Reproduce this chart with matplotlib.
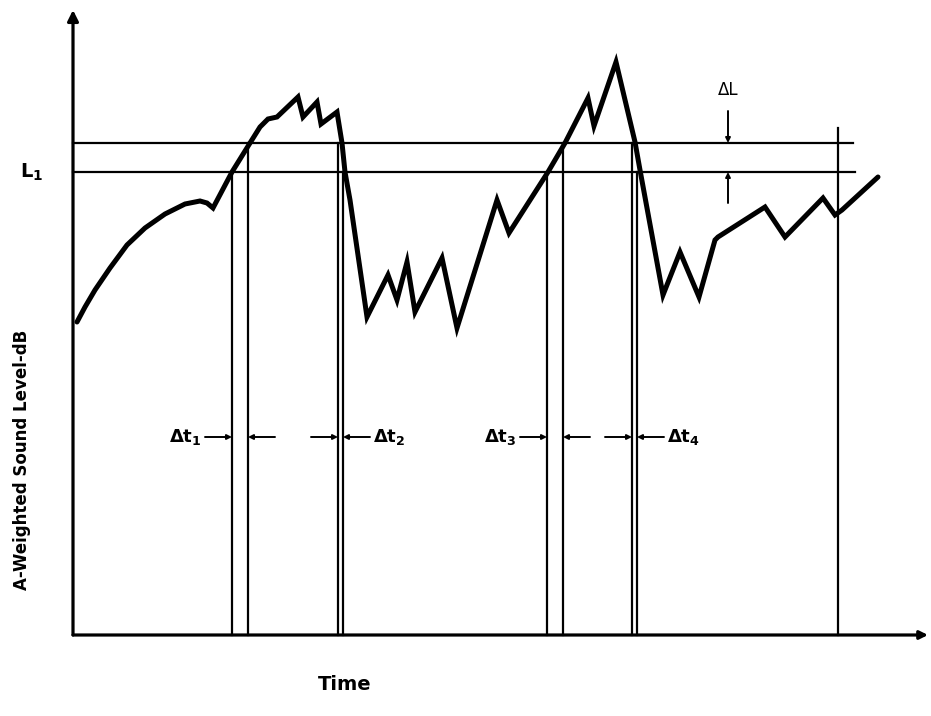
# Sketch: A-weighted sound level vs time, with threshold L1 and the
# time intervals where the level is above it (delta t1 .. delta t4).

import matplotlib.pyplot as plt

# ---- data (time and level in arbitrary drawing units) ----------------------

time = [4, 12, 22, 37, 54, 72, 92, 112, 127, 134, 140, 159, 177, 187, 195,
        204, 225, 230, 244, 248, 264, 269, 272, 277, 294, 315, 324, 334, 342,
        369, 384, 424, 436, 475, 492, 515, 521, 543, 562, 567, 590, 607, 626,
        642, 645, 692, 712, 750, 762, 769, 805]
level = [313, 328, 345, 367, 390, 407, 421, 431, 434, 432, 427, 463, 492,
         508, 516, 518, 538, 518, 533, 511, 523, 492, 463, 435, 318, 360, 335,
         373, 323, 377, 307, 435, 402, 463, 492, 537, 509, 573, 493, 465, 340,
         383, 338, 395, 398, 428, 398, 437, 420, 425, 458]

L1 = 463          # threshold level
L1_dL = 492       # threshold + delta L
line_end = 780    # right end of the two horizontal lines

# vertical lines: (time, top level)
vlines_t = [159, 175, 265, 270, 474, 490, 559, 564, 765]
vlines_top = [L1, L1_dL, L1_dL, L1, L1, L1_dL, L1_dL, L1, 507]

# delta t labels
dt_labels = ["\u0394t$_\\mathbf{1}$", "\u0394t$_\\mathbf{2}$",
             "\u0394t$_\\mathbf{3}$", "\u0394t$_\\mathbf{4}$"]
dt_level = 198

# ---- figure ----------------------------------------------------------------

fig = plt.figure(figsize=(9.31, 7.16), dpi=100)
ax = fig.add_axes([0, 0, 1, 1])
ax.set_xlim(-73, 858)
ax.set_ylim(-81, 635)
ax.axis("off")

# axes with arrows
ax.annotate("", xy=(0, 625), xytext=(0, 0),
            arrowprops=dict(arrowstyle="-|>", lw=2.3, color="black",
                            mutation_scale=16, shrinkA=0, shrinkB=0))
ax.annotate("", xy=(855, 0), xytext=(0, 0),
            arrowprops=dict(arrowstyle="-|>", lw=2.3, color="black",
                            mutation_scale=12, shrinkA=0, shrinkB=0))

# horizontal threshold lines
ax.plot([0, line_end], [L1_dL, L1_dL], color="black", lw=1.6)
ax.plot([0, line_end + 2], [L1, L1], color="black", lw=1.6)

# vertical lines
for t, top in zip(vlines_t, vlines_top):
    ax.plot([t, t], [0, top], color="black", lw=1.6)

# the sound level curve
ax.plot(time, level, color="black", lw=3.6, solid_joinstyle="miter",
        solid_capstyle="round")

# delta L arrows
ax.annotate("", xy=(655, L1_dL), xytext=(655, 524),
            arrowprops=dict(arrowstyle="-|>", lw=1.4, color="black",
                            mutation_scale=7, shrinkA=0, shrinkB=0))
ax.annotate("", xy=(655, L1), xytext=(655, 432),
            arrowprops=dict(arrowstyle="-|>", lw=1.4, color="black",
                            mutation_scale=7, shrinkA=0, shrinkB=0))
ax.text(655, 536, "\u0394L", ha="center", va="bottom", fontsize=12)

# L1 label
ax.text(-30, L1, "L$_\\mathbf{1}$", ha="right", va="center", fontsize=14,
        fontweight="bold")

# delta t arrows: (tail, head) pairs
pairs = [(vlines_t[0], vlines_t[1]), (vlines_t[2], vlines_t[3]),
         (vlines_t[4], vlines_t[5]), (vlines_t[6], vlines_t[7])]
for i, (a, b) in enumerate(pairs):
    ax.annotate("", xy=(a, dt_level), xytext=(a - 27, dt_level),
                arrowprops=dict(arrowstyle="-|>", lw=1.4, color="black",
                                mutation_scale=7, shrinkA=0, shrinkB=0))
    ax.annotate("", xy=(b, dt_level), xytext=(b + 27, dt_level),
                arrowprops=dict(arrowstyle="-|>", lw=1.4, color="black",
                                mutation_scale=7, shrinkA=0, shrinkB=0))
    if i % 2 == 0:
        ax.text(a - 30, dt_level, dt_labels[i], ha="right", va="center",
                fontsize=13, fontweight="bold")
    else:
        ax.text(b + 30, dt_level, dt_labels[i], ha="left", va="center",
                fontsize=13, fontweight="bold")

# axis titles
ax.text(-51, 175, "A-Weighted Sound Level-dB", rotation=90, ha="center",
        va="center", fontsize=12, fontweight="bold")
ax.text(272, -49, "Time", ha="center", va="center", fontsize=14,
        fontweight="bold")

fig.savefig("out.png", dpi=100)
